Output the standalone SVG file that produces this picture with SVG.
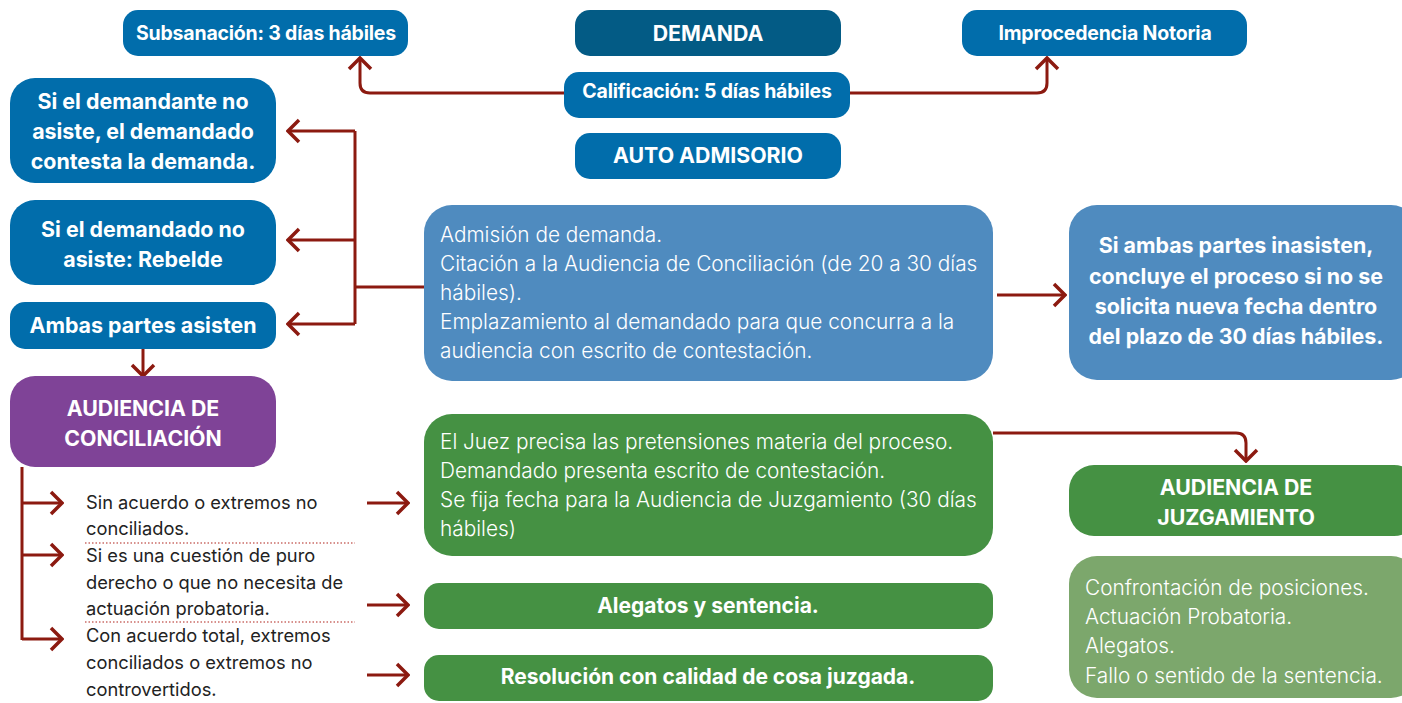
<svg xmlns="http://www.w3.org/2000/svg" width="1402" height="703" viewBox="0 0 1402 703">
<defs>
<style>
.b{fill:#016dab}
.dk{fill:#035b85}
.lb{fill:#4f8bbf}
.pu{fill:#7f4397}
.gr{fill:#459143}
.lg{fill:#7ca76c}
text{font-family:Inter,"Open Sans","Liberation Sans",sans-serif;dominant-baseline:central}
.h{fill:#fff;font-weight:700;font-size:19.5px;text-anchor:middle;letter-spacing:-0.2px}
.hc{fill:#fff;font-weight:700;font-size:21.3px;text-anchor:middle}
.hg{fill:#fff;font-weight:700;font-size:21px;text-anchor:middle}
.h2{fill:#fff;font-weight:700;font-size:21.4px;text-anchor:middle}
.t{fill:#fff;font-weight:300;font-size:20.8px}
.k{fill:#222;font-weight:400;font-size:18.3px}
.c{fill:none;stroke:#8c1a10;stroke-width:3}
.d{fill:none;stroke:#b0221a;stroke-width:1.2;stroke-dasharray:1.5 2}
</style>
<marker id="ah" markerUnits="userSpaceOnUse" viewBox="-14 -13 16 26" refX="0" refY="0" markerWidth="16" markerHeight="26" orient="auto">
<path d="M-11,-11 L0,0 L-11,11" fill="none" stroke="#8c1a10" stroke-width="3.5"/>
</marker>
</defs>
<g id="connectors">
<path class="c" d="M564,93 H370 Q360,93 360,83 V58" marker-end="url(#ah)"/>
<path class="c" d="M850,93 H1037 Q1047,93 1047,83 V58" marker-end="url(#ah)"/>
<path class="c" d="M424,287 H355"/>
<path class="c" d="M355,131 V324"/>
<path class="c" d="M355,131 H288" marker-end="url(#ah)"/>
<path class="c" d="M355,240 H288" marker-end="url(#ah)"/>
<path class="c" d="M355,324 H288" marker-end="url(#ah)"/>
<path class="c" d="M143,349 V376" marker-end="url(#ah)"/>
<path class="c" d="M997,295 H1065" marker-end="url(#ah)"/>
<path class="c" d="M993,433 H1236 Q1246,433 1246,443 V461" marker-end="url(#ah)"/>
<path class="c" d="M22,467 V640"/>
<path class="c" d="M22,503 H62" marker-end="url(#ah)"/>
<path class="c" d="M22,555 H62" marker-end="url(#ah)"/>
<path class="c" d="M22,639 H62" marker-end="url(#ah)"/>
<path class="c" d="M367,503 H408" marker-end="url(#ah)"/>
<path class="c" d="M367,605 H408" marker-end="url(#ah)"/>
<path class="c" d="M367,675 H408" marker-end="url(#ah)"/>
<path class="d" d="M85,543 H355"/>
<path class="d" d="M85,622 H355"/>
</g>
<g id="subsanacion"><rect class="b" x="123" y="10" width="285" height="46" rx="15"/><text class="h" x="266" y="33">Subsanación: 3 días hábiles</text></g>
<g id="demanda"><rect class="dk" x="575" y="10" width="266" height="46" rx="15"/><text class="hc" x="708" y="33">DEMANDA</text></g>
<g id="improcedencia"><rect class="b" x="962" y="10" width="285" height="46" rx="15"/><text class="h" x="1105" y="33">Improcedencia Notoria</text></g>
<g id="calificacion"><rect class="b" x="564" y="72" width="286" height="46" rx="15"/><text class="h" x="707" y="91">Calificación: 5 días hábiles</text></g>
<g id="auto"><rect class="b" x="575" y="133" width="266" height="46" rx="15"/><text class="hc" x="708" y="155">AUTO ADMISORIO</text></g>
<g id="demandante"><rect class="b" x="10" y="78" width="266" height="105" rx="25"/><text class="h2" x="143" y="101">Si el demandante no</text><text class="h2" x="143" y="131">asiste, el demandado</text><text class="h2" x="143" y="161">contesta la demanda.</text></g>
<g id="demandado"><rect class="b" x="10" y="200" width="266" height="85" rx="25"/><text class="h2" x="143" y="229">Si el demandado no</text><text class="h2" x="143" y="259">asiste: Rebelde</text></g>
<g id="ambas"><rect class="b" x="10" y="302" width="266" height="47" rx="15"/><text class="h2" x="143" y="325">Ambas partes asisten</text></g>
<g id="conciliacion"><rect class="pu" x="10" y="376" width="266" height="91" rx="25"/><text class="hc" x="143" y="408">AUDIENCIA DE</text><text class="hc" x="143" y="438">CONCILIACIÓN</text></g>
<g id="admision"><rect class="lb" x="424" y="205" width="569" height="176" rx="28"/>
<text class="t" x="440" y="234">Admisión de demanda.</text>
<text class="t" x="440" y="263">Citación a la Audiencia de Conciliación (de 20 a 30 días</text>
<text class="t" x="440" y="292">hábiles).</text>
<text class="t" x="440" y="321">Emplazamiento al demandado para que concurra a la</text>
<text class="t" x="440" y="350">audiencia con escrito de contestación.</text></g>
<g id="inasisten"><rect class="lb" x="1069" y="205" width="350" height="175" rx="28"/>
<text class="h2" x="1236" y="245">Si ambas partes inasisten,</text>
<text class="h2" x="1236" y="276">concluye el proceso si no se</text>
<text class="h2" x="1236" y="306">solicita nueva fecha dentro</text>
<text class="h2" x="1236" y="336">del plazo de 30 días hábiles.</text></g>
<g id="juez"><rect class="gr" x="424" y="414" width="569" height="142" rx="28"/>
<text class="t" x="440" y="441">El Juez precisa las pretensiones materia del proceso.</text>
<text class="t" x="440" y="470">Demandado presenta escrito de contestación.</text>
<text class="t" x="440" y="499">Se fija fecha para la Audiencia de Juzgamiento (30 días</text>
<text class="t" x="440" y="528">hábiles)</text></g>
<g id="juzgamiento"><rect class="gr" x="1069" y="465" width="350" height="71" rx="25"/><text class="hc" x="1236" y="487">AUDIENCIA DE</text><text class="hc" x="1236" y="517">JUZGAMIENTO</text></g>
<g id="fases"><rect class="lg" x="1069" y="556" width="350" height="142" rx="28"/>
<text class="t" x="1085" y="587">Confrontación de posiciones.</text>
<text class="t" x="1085" y="616">Actuación Probatoria.</text>
<text class="t" x="1085" y="645">Alegatos.</text>
<text class="t" x="1085" y="675">Fallo o sentido de la sentencia.</text></g>
<g id="alegatos"><rect class="gr" x="424" y="583" width="569" height="46" rx="15"/><text class="hg" x="708" y="605">Alegatos y sentencia.</text></g>
<g id="resolucion"><rect class="gr" x="424" y="655" width="569" height="46" rx="15"/><text class="hg" x="708" y="676">Resolución con calidad de cosa juzgada.</text></g>
<g id="condiciones">
<text class="k" x="86" y="502">Sin acuerdo o extremos no</text>
<text class="k" x="86" y="528">conciliados.</text>
<text class="k" x="86" y="555">Si es una cuestión de puro</text>
<text class="k" x="86" y="582">derecho o que no necesita de</text>
<text class="k" x="86" y="608">actuación probatoria.</text>
<text class="k" x="86" y="635">Con acuerdo total, extremos</text>
<text class="k" x="86" y="662">conciliados o extremos no</text>
<text class="k" x="86" y="689">controvertidos.</text>
</g>
</svg>
